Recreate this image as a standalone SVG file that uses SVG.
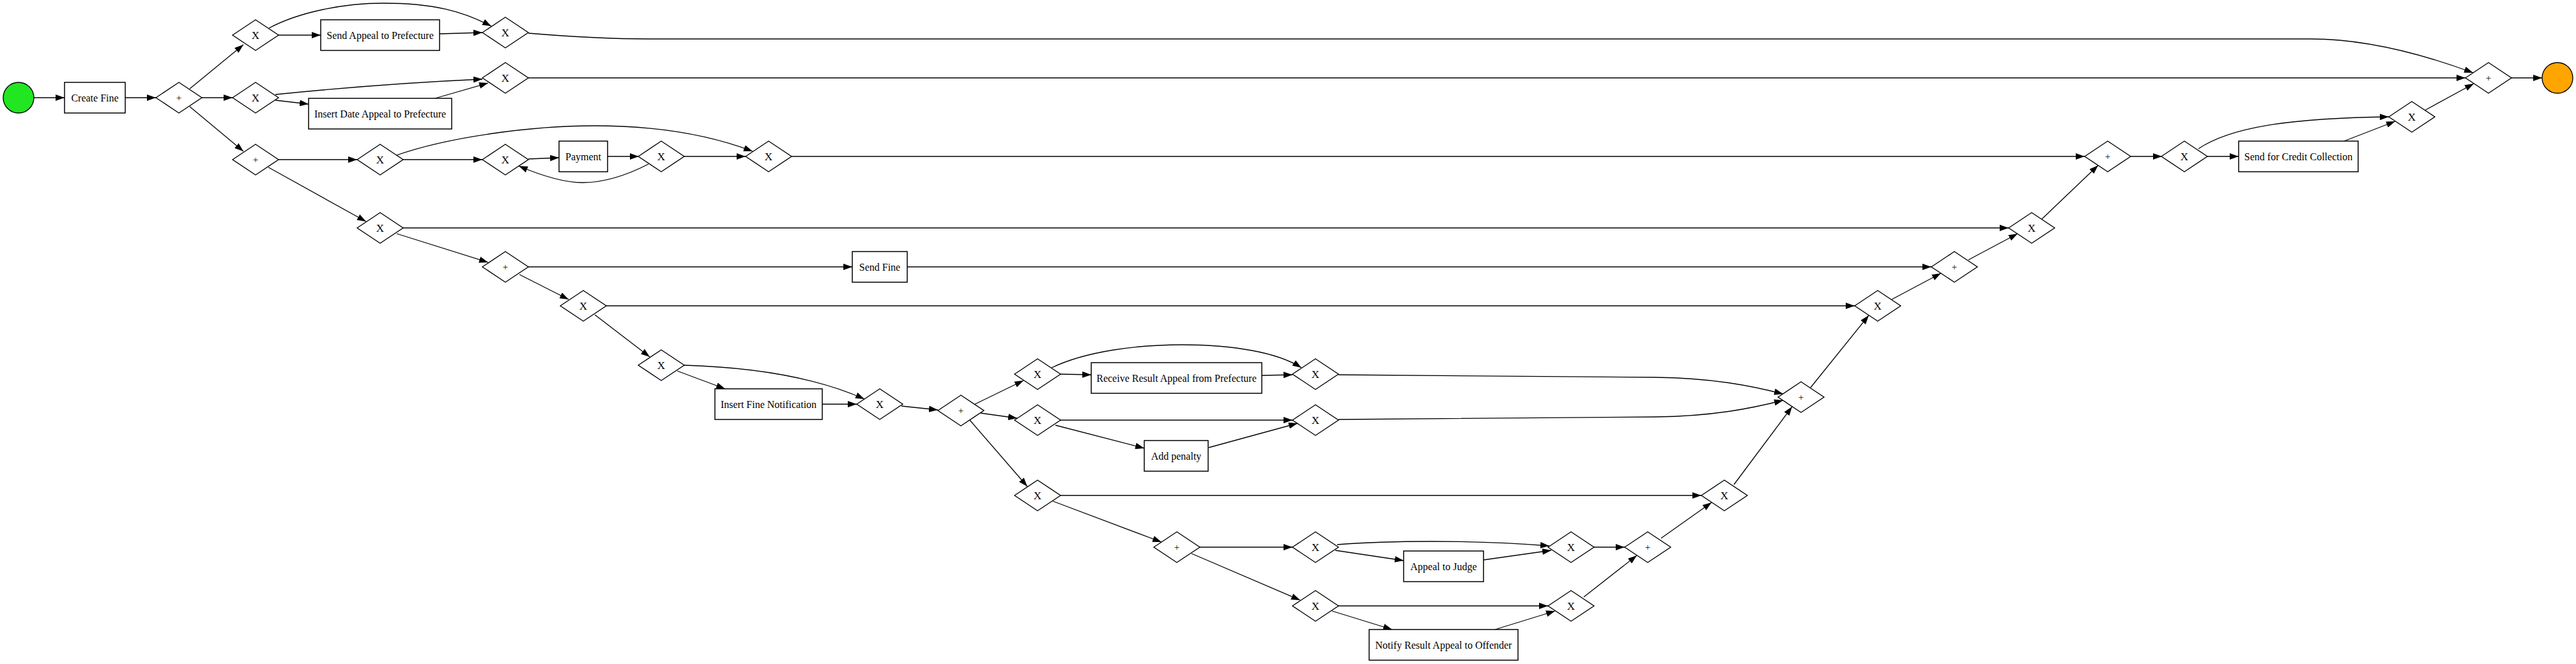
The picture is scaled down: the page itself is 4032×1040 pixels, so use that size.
<svg xmlns="http://www.w3.org/2000/svg" xmlns:xlink="http://www.w3.org/1999/xlink" width="4032" height="1040" viewBox="0 0 4032 1040">
<style>
.bg{fill:#fff}
.task{fill:#fff;stroke:#000;stroke-width:1.5}
.gw{fill:#fff;stroke:#000;stroke-width:1.4}
.lbl{font-family:"Liberation Serif","Times New Roman",serif;font-size:16px;text-anchor:middle;fill:#000}
.gx{font-family:"Liberation Serif","Times New Roman",serif;font-size:17px;text-anchor:middle;fill:#000}
.gp{font-family:"Liberation Serif","Times New Roman",serif;font-size:15px;text-anchor:middle;fill:#000}
.e{fill:none;stroke:#000;stroke-width:1.3;marker-end:url(#arr)}
</style>
<defs>
<marker id="arr" markerUnits="userSpaceOnUse" markerWidth="14" markerHeight="10" viewBox="0 0 14 10" refX="14" refY="5" orient="auto"><path d="M0,0 L14,5 L0,10 z" fill="#000"/></marker>
<polygon id="dia" class="gw" points="-36,0 0,-24 36,0 0,24"/>
</defs>
<rect class="bg" x="0" y="0" width="4032" height="1040"/>
<g id="connectors">
<path class="e" d="M53,153 L101,153"/>
<path class="e" d="M196,153 L244,153"/>
<path class="e" d="M297,139 L381,70"/>
<path class="e" d="M316,153 L364,153"/>
<path class="e" d="M297,167 L381,237"/>
<path class="e" d="M436,55 L502,55"/>
<path class="e" d="M421,44 C470,18 540,5 600,5 C680,5 725,18 769,41"/>
<path class="e" d="M688,53 L755,51"/>
<path class="e" d="M431,157 L483,163"/>
<path class="e" d="M431,148 C520,139 620,130 755,124"/>
<path class="e" d="M681,154 L764,130"/>
<path class="e" d="M827,52 C900,58 950,61 1015,61 L3617,61 C3700,61 3790,84 3871,114"/>
<path class="e" d="M827,122 L3859,122"/>
<path class="e" d="M436,250 L559,250"/>
<path class="e" d="M420,262 L573,347"/>
<path class="e" d="M631,250 L755,250"/>
<path class="e" d="M621,243 C700,215 830,197 930,197 C1040,197 1120,215 1178,237"/>
<path class="e" d="M827,249 L875,247"/>
<path class="e" d="M951,245 L1000,245"/>
<path class="e" d="M1015,257 C980,275 945,286 912,286 C880,286 845,274 812,260"/>
<path class="e" d="M1071,245 L1167,245"/>
<path class="e" d="M1239,245 L3263,245"/>
<path class="e" d="M3335,245 L3384,245"/>
<path class="e" d="M3455,245 L3504,245"/>
<path class="e" d="M3441,233 C3490,200 3580,185 3739,183"/>
<path class="e" d="M3669,221 L3749,190"/>
<path class="e" d="M3795,173 L3872,131"/>
<path class="e" d="M3931,122 L3979,122"/>
<path class="e" d="M631,357 L3144,357"/>
<path class="e" d="M621,366 L764,411"/>
<path class="e" d="M827,418 L1334,418"/>
<path class="e" d="M813,430 L890,469"/>
<path class="e" d="M1420,418 L3023,418"/>
<path class="e" d="M949,479 L2903,479"/>
<path class="e" d="M931,493 L1017,559"/>
<path class="e" d="M1071,572 C1170,575 1270,588 1353,625"/>
<path class="e" d="M1060,581 L1135,609"/>
<path class="e" d="M1287,633 L1341,633"/>
<path class="e" d="M1411,636 L1468,642"/>
<path class="e" d="M1526,633 L1602,596"/>
<path class="e" d="M1535,647 L1592,655"/>
<path class="e" d="M1518,658 L1608,762"/>
<path class="e" d="M1660,586 L1708,587"/>
<path class="e" d="M1646,576 C1700,550 1780,540 1850,540 C1930,540 2000,552 2037,576"/>
<path class="e" d="M1975,588 L2023,587"/>
<path class="e" d="M1660,658 L2023,658"/>
<path class="e" d="M1652,666 L1791,702"/>
<path class="e" d="M1892,701 L2031,663"/>
<path class="e" d="M2095,587 L2590,591 C2680,592 2740,604 2791,617"/>
<path class="e" d="M2095,657 L2590,653 C2680,652 2740,640 2791,627"/>
<path class="e" d="M1660,776 L2663,776"/>
<path class="e" d="M1648,785 L1818,849"/>
<path class="e" d="M1878,857 L2023,857"/>
<path class="e" d="M1865,867 L2035,940"/>
<path class="e" d="M2093,853 C2170,847 2300,845 2425,855"/>
<path class="e" d="M2090,862 L2197,878"/>
<path class="e" d="M2322,877 L2428,862"/>
<path class="e" d="M2495,857 L2543,857"/>
<path class="e" d="M2095,949 L2423,949"/>
<path class="e" d="M2085,957 L2179,986"/>
<path class="e" d="M2340,986 L2434,957"/>
<path class="e" d="M2479,935 L2562,870"/>
<path class="e" d="M2600,843 L2679,787"/>
<path class="e" d="M2714,759 L2805,637"/>
<path class="e" d="M2834,607 L2925,494"/>
<path class="e" d="M2961,469 L3038,428"/>
<path class="e" d="M3081,407 L3158,366"/>
<path class="e" d="M3196,343 L3284,259"/>
</g>
<g id="start"><circle cx="29" cy="153" r="24" fill="#22e622" stroke="#000" stroke-width="1.4"/></g>
<g id="t_create_fine"><rect class="task" x="101" y="129" width="95" height="48"/><text class="lbl" x="148.5" y="158.5">Create Fine</text></g>
<g id="g1"><use xlink:href="#dia" x="280" y="153"/><text class="gp" x="280" y="158">+</text></g>
<g id="g2"><use xlink:href="#dia" x="400" y="55"/><text class="gx" x="400" y="61">X</text></g>
<g id="t_send_appeal"><rect class="task" x="502" y="31" width="186" height="48"/><text class="lbl" x="595" y="60.5">Send Appeal to Prefecture</text></g>
<g id="g3"><use xlink:href="#dia" x="400" y="153"/><text class="gx" x="400" y="159">X</text></g>
<g id="t_insert_date"><rect class="task" x="483" y="154" width="224" height="48"/><text class="lbl" x="595" y="183.5">Insert Date Appeal to Prefecture</text></g>
<g id="g4"><use xlink:href="#dia" x="400" y="250"/><text class="gp" x="400" y="255">+</text></g>
<g id="g5"><use xlink:href="#dia" x="791" y="51"/><text class="gx" x="791" y="57">X</text></g>
<g id="g6"><use xlink:href="#dia" x="791" y="122"/><text class="gx" x="791" y="128">X</text></g>
<g id="g7"><use xlink:href="#dia" x="595" y="250"/><text class="gx" x="595" y="256">X</text></g>
<g id="g8"><use xlink:href="#dia" x="595" y="357"/><text class="gx" x="595" y="363">X</text></g>
<g id="g9"><use xlink:href="#dia" x="791" y="250"/><text class="gx" x="791" y="256">X</text></g>
<g id="t_payment"><rect class="task" x="875" y="221" width="76" height="48"/><text class="lbl" x="913" y="250.5">Payment</text></g>
<g id="g10"><use xlink:href="#dia" x="1035" y="245"/><text class="gx" x="1035" y="251">X</text></g>
<g id="g11"><use xlink:href="#dia" x="1203" y="245"/><text class="gx" x="1203" y="251">X</text></g>
<g id="g12"><use xlink:href="#dia" x="791" y="418"/><text class="gp" x="791" y="423">+</text></g>
<g id="t_send_fine"><rect class="task" x="1334" y="394" width="86" height="48"/><text class="lbl" x="1377" y="423.5">Send Fine</text></g>
<g id="g13"><use xlink:href="#dia" x="913" y="479"/><text class="gx" x="913" y="485">X</text></g>
<g id="g14"><use xlink:href="#dia" x="1035" y="572"/><text class="gx" x="1035" y="578">X</text></g>
<g id="t_insert_fine_notification"><rect class="task" x="1119" y="609" width="168" height="48"/><text class="lbl" x="1203" y="638.5">Insert Fine Notification</text></g>
<g id="g15"><use xlink:href="#dia" x="1377" y="633"/><text class="gx" x="1377" y="639">X</text></g>
<g id="g16"><use xlink:href="#dia" x="1504" y="643"/><text class="gp" x="1504" y="648">+</text></g>
<g id="g17"><use xlink:href="#dia" x="1624" y="586"/><text class="gx" x="1624" y="592">X</text></g>
<g id="t_receive_result"><rect class="task" x="1708" y="568" width="267" height="48"/><text class="lbl" x="1841.5" y="597.5">Receive Result Appeal from Prefecture</text></g>
<g id="g18"><use xlink:href="#dia" x="1624" y="658"/><text class="gx" x="1624" y="664">X</text></g>
<g id="t_add_penalty"><rect class="task" x="1791" y="690" width="100" height="48"/><text class="lbl" x="1841" y="719.5">Add penalty</text></g>
<g id="g19"><use xlink:href="#dia" x="1624" y="776"/><text class="gx" x="1624" y="782">X</text></g>
<g id="g20"><use xlink:href="#dia" x="1842" y="857"/><text class="gp" x="1842" y="862">+</text></g>
<g id="g21"><use xlink:href="#dia" x="2059" y="586"/><text class="gx" x="2059" y="592">X</text></g>
<g id="g22"><use xlink:href="#dia" x="2059" y="658"/><text class="gx" x="2059" y="664">X</text></g>
<g id="g23"><use xlink:href="#dia" x="2059" y="857"/><text class="gx" x="2059" y="863">X</text></g>
<g id="t_appeal_judge"><rect class="task" x="2197" y="863" width="125" height="48"/><text class="lbl" x="2259.5" y="892.5">Appeal to Judge</text></g>
<g id="g24"><use xlink:href="#dia" x="2459" y="857"/><text class="gx" x="2459" y="863">X</text></g>
<g id="g25"><use xlink:href="#dia" x="2579" y="857"/><text class="gp" x="2579" y="862">+</text></g>
<g id="g26"><use xlink:href="#dia" x="2059" y="949"/><text class="gx" x="2059" y="955">X</text></g>
<g id="t_notify"><rect class="task" x="2143" y="986" width="233" height="48"/><text class="lbl" x="2259.5" y="1015.5">Notify Result Appeal to Offender</text></g>
<g id="g27"><use xlink:href="#dia" x="2459" y="949"/><text class="gx" x="2459" y="955">X</text></g>
<g id="g28"><use xlink:href="#dia" x="2699" y="776"/><text class="gx" x="2699" y="782">X</text></g>
<g id="g29"><use xlink:href="#dia" x="2819" y="622"/><text class="gp" x="2819" y="627">+</text></g>
<g id="g30"><use xlink:href="#dia" x="2939" y="479"/><text class="gx" x="2939" y="485">X</text></g>
<g id="g31"><use xlink:href="#dia" x="3059" y="418"/><text class="gp" x="3059" y="423">+</text></g>
<g id="g32"><use xlink:href="#dia" x="3180" y="357"/><text class="gx" x="3180" y="363">X</text></g>
<g id="g33"><use xlink:href="#dia" x="3299" y="245"/><text class="gp" x="3299" y="250">+</text></g>
<g id="g34"><use xlink:href="#dia" x="3419" y="245"/><text class="gx" x="3419" y="251">X</text></g>
<g id="t_credit_collection"><rect class="task" x="3504" y="221" width="187" height="48"/><text class="lbl" x="3597.5" y="250.5">Send for Credit Collection</text></g>
<g id="g35"><use xlink:href="#dia" x="3775" y="183"/><text class="gx" x="3775" y="189">X</text></g>
<g id="g36"><use xlink:href="#dia" x="3895" y="122"/><text class="gp" x="3895" y="127">+</text></g>
<g id="end"><circle cx="4003" cy="122" r="24" fill="#ffa500" stroke="#000" stroke-width="1.4"/></g>
</svg>
